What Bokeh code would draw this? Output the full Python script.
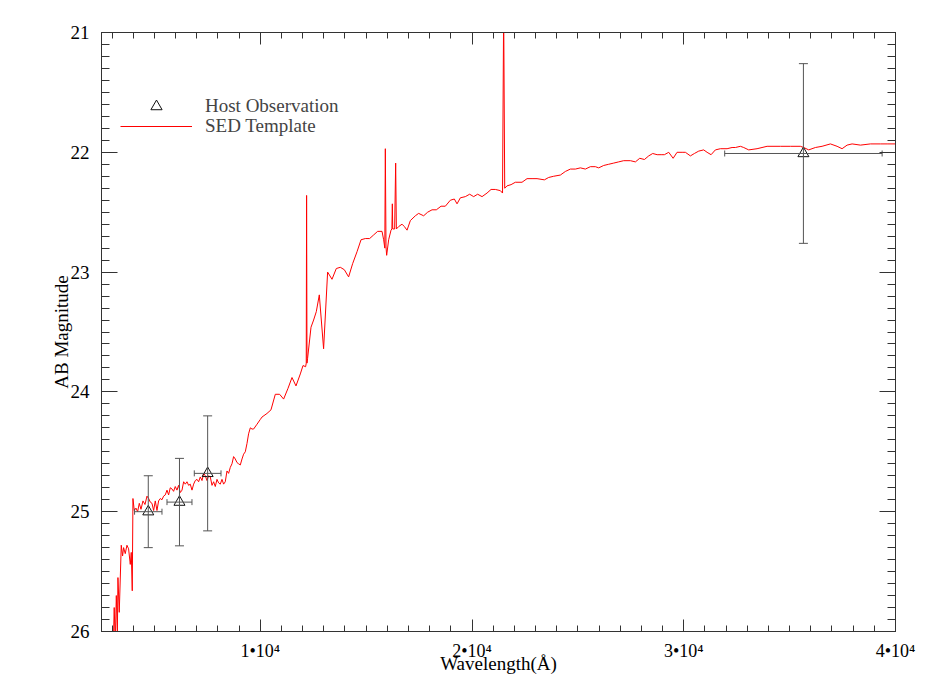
from bokeh.plotting import figure
from bokeh.models import (Range1d, FixedTicker, LinearAxis, ColumnDataSource,
                          Whisker, TeeHead, Legend, LegendItem)
from bokeh.embed import file_html
from bokeh.resources import INLINE

# ---------------- data ----------------
sed_wavelength = [
    3020, 3100, 3150, 3200, 3250, 3277, 3339, 3433, 3496, 3543, 3622, 3701, 3780, 3859,
    3906, 3953, 3985, 4048, 4128, 4206, 4285, 4365, 4459, 4554, 4648, 4727, 4804, 4884,
    4962, 5040, 5120, 5197, 5276, 5357, 5433, 5512, 5593, 5669, 5748, 5828, 5905, 5984,
    6064, 6141, 6221, 6302, 6379, 6457, 6537, 6615, 6693, 6774, 6851, 6929, 7010, 7087,
    7166, 7247, 7323, 7402, 7482, 7559, 7638, 7719, 7796, 7874, 7954, 8032, 8110, 8191,
    8267, 8346, 8427, 8503, 8583, 8663, 8739, 8819, 8900, 8975, 9055, 9136, 9211, 9291,
    9372, 9447, 9528, 9608, 9684, 9844, 10000, 10080, 10316, 10504, 10709, 10912, 11101,
    11309, 11497, 11686, 11890, 12017, 12140, 12170, 12187, 12205, 12234, 12395, 12518,
    12645, 12787, 12990, 13179, 13387, 13590, 13779, 13968, 14171, 14360, 14568, 14757,
    14960, 15163, 15352, 15541, 15749, 15826, 15880, 15905, 15937, 15968, 16062, 16174,
    16215, 16236, 16255, 16345, 16393, 16426, 16535, 16695, 16804, 16931, 17087, 17323,
    17478, 17715, 17904, 18111, 18314, 18536, 18739, 18975, 19164, 19292, 19448, 19684,
    19887, 20076, 20265, 20473, 20709, 20898, 21101, 21337, 21440, 21494, 21543, 21654,
    21843, 22046, 22361, 22598, 22834, 23070, 23416, 23620, 23856, 24172, 24408, 24644,
    24881, 25117, 25353, 25589, 25825, 25982, 26218, 26454, 26691, 26927, 27163, 27479,
    27716, 27920, 28142, 28345, 28534, 28742, 28931, 29085, 29290, 29498, 29684, 29921,
    30077, 30313, 30502, 30707, 30941, 31101, 31290, 31493, 31730, 32046, 32282, 32439,
    32675, 32831, 33067, 33461, 33935, 34563, 35035, 35508, 35665, 35901, 36217, 36532,
    36926, 37241, 37477, 37714, 37950, 38344, 38816, 39289, 39604, 40000,
]
sed_mag = [
    26.40, 25.80, 26.10, 25.70, 26.00, 25.55, 25.84, 25.28, 25.37, 25.30, 25.35, 25.28, 25.31, 25.44,
    25.34, 25.66, 24.89, 24.99, 24.97, 25.00, 24.93, 24.98, 24.91, 24.94, 24.87, 24.89, 24.92, 24.93,
    24.99, 24.91, 24.99, 24.91, 24.89, 24.90, 24.87, 24.86, 24.82, 24.86, 24.80, 24.81, 24.83, 24.79,
    24.82, 24.78, 24.84, 24.82, 24.75, 24.77, 24.75, 24.78, 24.77, 24.82, 24.77, 24.74, 24.73, 24.75,
    24.71, 24.74, 24.68, 24.70, 24.74, 24.70, 24.71, 24.78, 24.75, 24.79, 24.73, 24.76, 24.77, 24.73,
    24.77, 24.75, 24.66, 24.68, 24.63, 24.60, 24.54, 24.56, 24.59, 24.60, 24.61, 24.56, 24.52, 24.50,
    24.43, 24.35, 24.30, 24.31, 24.31, 24.27, 24.23, 24.21, 24.18, 24.15, 24.02, 24.02, 24.06,
    23.97, 23.88, 23.95, 23.85, 23.78, 23.79, 23.76, 22.36, 23.76, 23.72, 23.46, 23.40,
    23.33, 23.19, 23.64, 23.00, 23.06, 22.97, 22.96, 22.98, 23.04, 22.93, 22.83, 22.73,
    22.72, 22.72, 22.69, 22.66, 22.66, 22.73, 22.80, 21.97, 22.79, 22.86, 22.73, 22.65,
    22.64, 22.43, 22.64, 22.64, 22.09, 22.64, 22.62, 22.60, 22.62, 22.65, 22.57, 22.53,
    22.51, 22.53, 22.50, 22.48, 22.48, 22.45, 22.45, 22.40, 22.39, 22.43, 22.38, 22.37,
    22.35, 22.37, 22.35, 22.37, 22.34, 22.31, 22.31, 22.32, 22.34, 20.80, 22.30, 22.28,
    22.27, 22.25, 22.25, 22.22, 22.22, 22.22, 22.23, 22.21, 22.20, 22.19, 22.16, 22.14,
    22.14, 22.13, 22.14, 22.12, 22.12, 22.13, 22.11, 22.10, 22.09, 22.08, 22.07, 22.07,
    22.08, 22.05, 22.06, 22.03, 22.01, 22.02, 22.02, 22.02, 22.00, 22.05, 22.00, 22.00,
    22.00, 22.03, 22.01, 21.99, 21.98, 22.00, 22.02, 21.98, 21.97, 21.97, 21.96, 21.96,
    21.95, 21.96, 21.98, 21.97, 21.95, 21.95, 21.95, 21.95, 21.96, 21.98, 21.96, 21.95,
    21.93, 21.95, 21.97, 21.94, 21.93, 21.94, 21.93, 21.93, 21.93, 21.93,
]

obs_wavelength = [4709, 6183, 7513, 35651]
obs_wavelength_err = [647, 590, 631, 3718]
obs_mag = [25.00, 24.92, 24.68, 22.01]
obs_mag_err = [0.30, 0.365, 0.48, 0.75]

x_major_ticks = [10000, 20000, 30000, 40000]
x_tick_labels = ["1•10⁴", "2•10⁴", "3•10⁴", "4•10⁴"]
y_major_ticks = [21, 22, 23, 24, 25, 26]

x_minor_ticks = list(range(3000, 40001, 1000))
y_minor_ticks = [round(21 + 0.1 * i, 1) for i in range(51)]

FONT = "Liberation Serif"
AXIS_COLOR = "#333333"

# ---------------- figure ----------------
p = figure(width=920, height=687,
           x_range=Range1d(2500, 40000), y_range=Range1d(26, 21),
           output_backend="svg", toolbar_location=None,
           x_axis_location=None, y_axis_location=None,
           min_border_left=101, min_border_right=25,
           min_border_top=32, min_border_bottom=56)
p.xgrid.visible = False
p.ygrid.visible = False
p.outline_line_color = AXIS_COLOR
p.background_fill_color = "white"
p.border_fill_color = "white"

xticker = FixedTicker(ticks=x_major_ticks, minor_ticks=x_minor_ticks)
yticker = FixedTicker(ticks=y_major_ticks, minor_ticks=y_minor_ticks)


def style(ax, major_len, minor_len, labels=True):
    ax.major_tick_in = major_len
    ax.major_tick_out = 0
    ax.minor_tick_in = minor_len
    ax.minor_tick_out = 0
    ax.axis_line_color = AXIS_COLOR
    ax.major_tick_line_color = AXIS_COLOR
    ax.minor_tick_line_color = AXIS_COLOR
    ax.major_label_text_font = FONT
    ax.axis_label_text_font = FONT
    ax.axis_label_text_font_style = "normal"
    ax.major_label_text_color = "black"
    ax.axis_label_text_color = "black"
    if not labels:
        ax.major_label_text_color = None
        ax.major_label_text_font_size = "1px"
        ax.major_label_standoff = 0


xb = LinearAxis(ticker=xticker, axis_label="Wavelength(Å)")
style(xb, 12, 6)
xb.major_label_overrides = dict(zip(x_major_ticks, x_tick_labels))
xb.major_label_text_font_size = "18px"
xb.major_label_standoff = 9
xb.axis_label_text_font_size = "19px"
xb.axis_label_standoff = -11
p.add_layout(xb, "below")

xt = LinearAxis(ticker=xticker)
style(xt, 12, 6, labels=False)
p.add_layout(xt, "above")

yl = LinearAxis(ticker=yticker, axis_label="AB Magnitude")
style(yl, 16, 8)
yl.major_label_text_font_size = "19px"
yl.major_label_standoff = 12
yl.axis_label_text_font_size = "19px"
yl.axis_label_standoff = -4
p.add_layout(yl, "left")

yr = LinearAxis(ticker=yticker)
style(yr, 16, 8, labels=False)
p.add_layout(yr, "right")

# ---------------- glyphs ----------------
sed_r = p.line(sed_wavelength, sed_mag, line_color="#ff0000", line_width=1)

obs_src = ColumnDataSource(dict(
    x=obs_wavelength, y=obs_mag,
    ylo=[m - e for m, e in zip(obs_mag, obs_mag_err)],
    yhi=[m + e for m, e in zip(obs_mag, obs_mag_err)],
    xlo=[w - e for w, e in zip(obs_wavelength, obs_wavelength_err)],
    xhi=[w + e for w, e in zip(obs_wavelength, obs_wavelength_err)],
))
ERR_COLOR = "#555555"
p.add_layout(Whisker(source=obs_src, base="x", lower="ylo", upper="yhi", dimension="height",
                     line_color=ERR_COLOR, line_width=1, level="glyph",
                     lower_head=TeeHead(size=9, line_color=ERR_COLOR, line_width=1),
                     upper_head=TeeHead(size=9, line_color=ERR_COLOR, line_width=1)))
p.add_layout(Whisker(source=obs_src, base="y", lower="xlo", upper="xhi", dimension="width",
                     line_color=ERR_COLOR, line_width=1, level="glyph",
                     lower_head=TeeHead(size=6, line_color=ERR_COLOR, line_width=1),
                     upper_head=TeeHead(size=6, line_color=ERR_COLOR, line_width=1)))
obs_r = p.scatter("x", "y", source=obs_src, marker="triangle", size=11,
                  fill_color=None, line_color="#111111", line_width=1)

# ---------------- legends ----------------
common = dict(padding=0, margin=0, border_line_color=None, background_fill_alpha=0,
              label_text_font=FONT, label_text_font_size="19px", label_standoff=13,
              glyph_width=72, spacing=0)
leg_obs = Legend(items=[LegendItem(label="Host Observation", renderers=[obs_r])],
                 location=(19, 511), glyph_height=28, label_height=28, **common)
leg_sed = Legend(items=[LegendItem(label="SED Template", renderers=[sed_r])],
                 location=(19, 494), glyph_height=20, label_height=20, **common)
p.add_layout(leg_obs)
p.add_layout(leg_sed)

open("out.html", "w").write(file_html(p, INLINE))
